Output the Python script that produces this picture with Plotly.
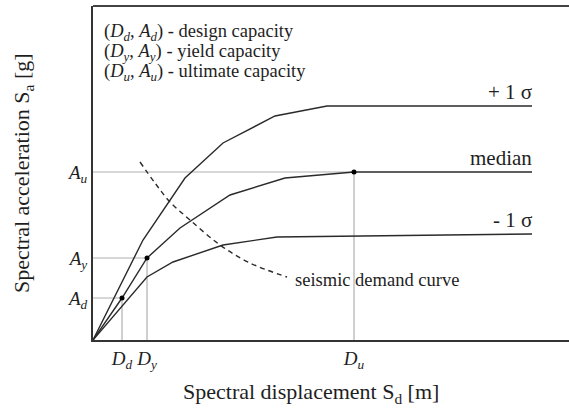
import plotly.graph_objects as go

# Capacity curves (spectral displacement, spectral acceleration) in arbitrary units
plus_x = [0, 50, 92, 130, 182, 234, 439]
plus_y = [0, 100, 162, 197, 224, 234, 234]
median_x = [0, 29, 54, 87, 137, 192, 261, 439]
median_y = [0, 42, 82, 112, 145, 162, 168, 168]
minus_x = [0, 54, 80, 130, 184, 439]
minus_y = [0, 63, 78, 95, 103, 106]
demand_x = [47, 62, 77, 97, 127, 157, 194]
demand_y = [178, 157, 138, 120, 95, 77, 63]

# capacity points
cap_d = [29, 54, 261]
cap_a = [42, 82, 168]
d_labels = ["<i>D<sub>d</sub></i>", "<i>D<sub>y</sub></i>", "<i>D<sub>u</sub></i>"]
a_labels = ["<i>A<sub>d</sub></i>", "<i>A<sub>y</sub></i>", "<i>A<sub>u</sub></i>"]

FONT = "Liberation Serif, Times New Roman, serif"
TXT = "#1e1e1e"
fig = go.Figure()

# gray reference lines
for d, a in zip(cap_d, cap_a):
    fig.add_trace(go.Scatter(x=[0, d, d], y=[a, a, 0], mode="lines",
                             line=dict(color="#b0b0b0", width=1.2), hoverinfo="skip"))

lc = "#2a2a2a"
fig.add_trace(go.Scatter(x=plus_x, y=plus_y, mode="lines", line=dict(color=lc, width=1.4)))
fig.add_trace(go.Scatter(x=median_x, y=median_y, mode="lines", line=dict(color=lc, width=1.4)))
fig.add_trace(go.Scatter(x=minus_x, y=minus_y, mode="lines", line=dict(color=lc, width=1.4)))
fig.add_trace(go.Scatter(x=demand_x, y=demand_y, mode="lines", line=dict(color=lc, width=1.4, dash="5px,4px"),
                         line_shape="spline"))
fig.add_trace(go.Scatter(x=cap_d, y=cap_a, mode="markers", marker=dict(color="black", size=5)))

# curve labels
for cx, cy, t in [(plus_x, plus_y, "+ 1 σ"), (median_x, median_y, "median"), (minus_x, minus_y, "- 1 σ")]:
    fig.add_annotation(x=cx[-1], y=cy[-1], text=t, xanchor="right", yanchor="bottom", showarrow=False,
                       font=dict(family=FONT, size=21, color=TXT), yshift=0, xshift=2)
fig.add_annotation(x=demand_x[-1], y=demand_y[-1], text="seismic demand curve", xanchor="left", yanchor="middle",
                   showarrow=False, font=dict(family=FONT, size=18.5, color=TXT), xshift=6, yshift=-3)

# legend text
legend_lines = ["(<i>D<sub>d</sub></i>, <i>A<sub>d</sub></i>) - design capacity",
                "(<i>D<sub>y</sub></i>, <i>A<sub>y</sub></i>) - yield capacity",
                "(<i>D<sub>u</sub></i>, <i>A<sub>u</sub></i>) - ultimate capacity"]
for i, t in enumerate(legend_lines):
    fig.add_annotation(xref="paper", yref="paper", x=0.018, y=0.92 - i * 0.06, text=t,
                       xanchor="left", yanchor="middle", showarrow=False,
                       font=dict(family=FONT, size=18.5, color=TXT))

# axis titles
fig.add_annotation(xref="paper", yref="paper", x=0.458, y=-0.159, text="Spectral displacement S<sub>d</sub> [m]",
                   xanchor="center", yanchor="middle", showarrow=False, font=dict(family=FONT, size=22, color=TXT))
fig.add_annotation(xref="paper", yref="paper", x=-0.147, y=0.5, text="Spectral acceleration S<sub>a</sub> [g]",
                   xanchor="center", yanchor="middle", textangle=-90, showarrow=False,
                   font=dict(family=FONT, size=22, color=TXT))

# top border line
fig.add_shape(type="line", xref="paper", yref="paper", x0=0, x1=1, y0=1, y1=1,
              line=dict(color="#444", width=2))

fig.update_layout(
    width=569, height=412, margin=dict(l=93, r=0, t=6, b=72),
    paper_bgcolor="white", plot_bgcolor="white", showlegend=False,
    xaxis=dict(range=[0, 476], showgrid=False, zeroline=False, showline=True, linecolor="#333", linewidth=2,
               tickvals=cap_d, ticktext=d_labels, ticks="", tickfont=dict(family=FONT, size=19, color=TXT)),
    yaxis=dict(range=[0, 334], showgrid=False, zeroline=False, showline=True, linecolor="#333", linewidth=2,
               tickvals=cap_a, ticktext=a_labels, ticks="", tickfont=dict(family=FONT, size=19, color=TXT)),
)
fig.write_html("out.html")
